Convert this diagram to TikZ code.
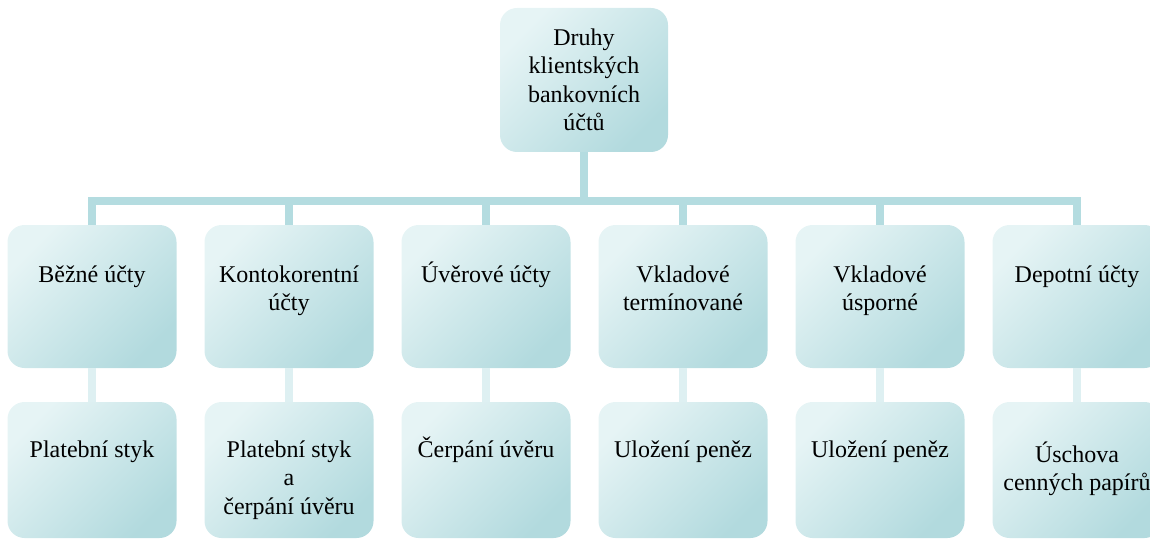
\documentclass[tikz,border=0pt]{standalone}
\usepackage{fontspec}
\setmainfont{Liberation Serif}
\definecolor{boxlight}{HTML}{E6F4F5}
\definecolor{boxdark}{HTML}{B2DADE}
\definecolor{connA}{HTML}{B4DCE0}
\definecolor{connB}{HTML}{DEF0F2}
\newcommand{\fs}{\fontsize{24}{28.5}\selectfont}
\newcommand{\st}{\rule{0pt}{24pt}}
\begin{document}
\begin{tikzpicture}[x=1pt,y=-1pt,
  box/.style={rounded corners=17pt, top color=boxlight, bottom color=boxdark,
    shading angle=45, minimum width=169pt, inner sep=0pt, align=center, font=\fs},
  rowa/.style={box, minimum height=143pt},
  rowb/.style={box, minimum height=136pt},
  lbl/.style={font=\fs, align=center, inner sep=0pt, anchor=north},
  conn/.style={draw=connA, line width=8pt},
  connlow/.style={draw=connB, line width=8pt}]
\useasboundingbox (0,0) rectangle (1150,540);
\clip (0,0) rectangle (1150,540);
% root
\node[box, minimum width=168pt, minimum height=144pt] (top) at (584,80)
  {Druhy\\klientských\\bankovních\\účtů};
% first row
\node[rowa] (a1) at (92,296.5) {};
\node[rowa] (a2) at (289,296.5) {};
\node[rowa] (a3) at (486,296.5) {};
\node[rowa] (a4) at (683,296.5) {};
\node[rowa] (a5) at (880,296.5) {};
\node[rowa] (a6) at (1077,296.5) {};
% second row
\node[rowb] (b1) at (92,470) {};
\node[rowb] (b2) at (289,470) {};
\node[rowb] (b3) at (486,470) {};
\node[rowb] (b4) at (683,470) {};
\node[rowb] (b5) at (880,470) {};
\node[rowb] (b6) at (1077,470) {};
% labels
\node[lbl] (ta1) at (92,258) {\st Běžné účty};
\node[lbl] (ta2) at (289,258) {\st Kontokorentní\\účty};
\node[lbl] (ta3) at (486,258) {\st Úvěrové účty};
\node[lbl] (ta4) at (683,258) {\st Vkladové\\termínované};
\node[lbl] (ta5) at (880,258) {\st Vkladové\\úsporné};
\node[lbl] (ta6) at (1077,258) {\st Depotní účty};
\node[lbl] (tb1) at (92,433) {\st Platební styk};
\node[lbl] (tb2) at (289,433) {\st Platební styk\\a\\čerpání úvěru};
\node[lbl] (tb3) at (486,433) {\st Čerpání úvěru};
\node[lbl] (tb4) at (683,433) {\st Uložení peněz};
\node[lbl] (tb5) at (880,433) {\st Uložení peněz};
\node[lbl] (tb6) at (1077,438) {\st Úschova\\cenných papírů};
% connectors
\coordinate (bar) at (584,201);
\foreach \i in {1,...,6}{
  \draw[conn] (top.south) -- (bar) -| (a\i.north);
  \draw[connlow] (a\i.south) -- (b\i.north);
}
\end{tikzpicture}
\end{document}
